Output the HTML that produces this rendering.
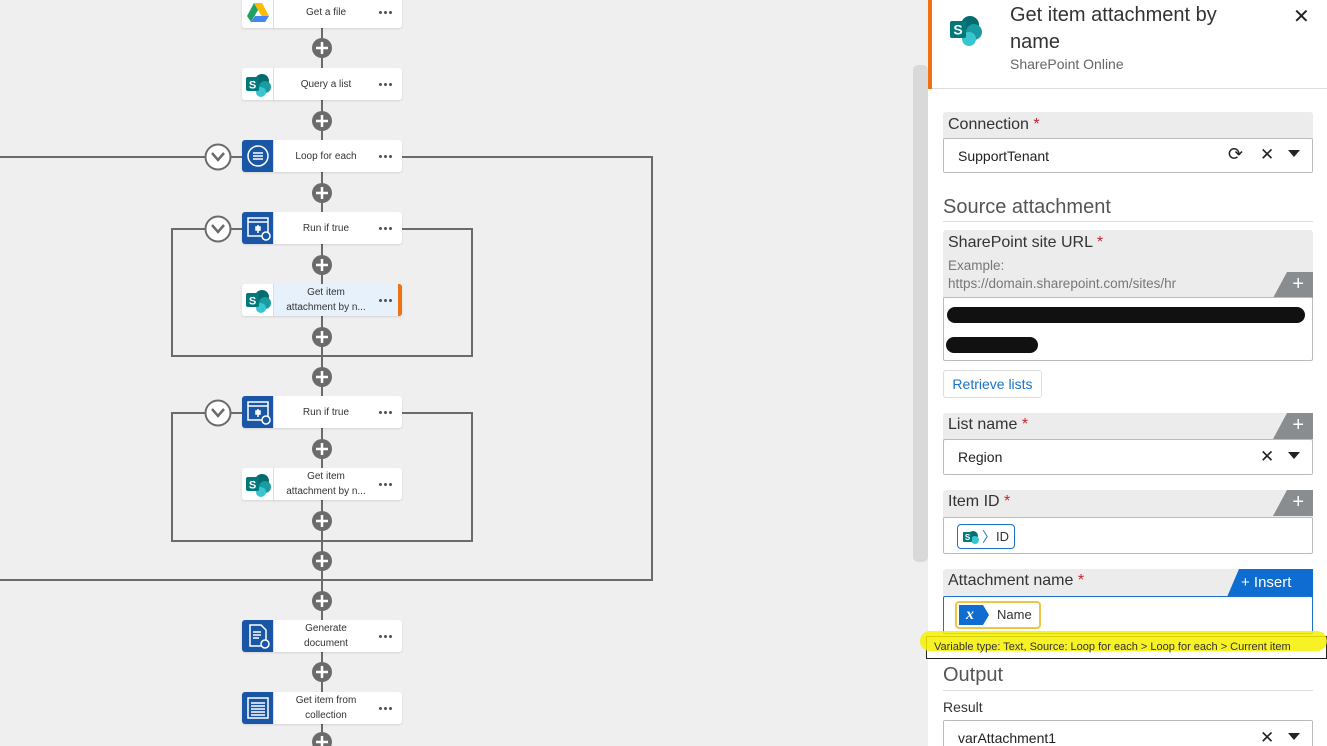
<!DOCTYPE html>
<html><head><meta charset="utf-8"><style>
*{margin:0;padding:0;box-sizing:border-box}
html,body{width:1327px;height:746px;overflow:hidden}
body{background:#efefef;font-family:"Liberation Sans","DejaVu Sans",sans-serif;position:relative}
.a{position:absolute}
.card{position:absolute;left:242px;width:160px;height:32px;background:#fff;border-radius:3px;box-shadow:0 1px 2px rgba(0,0,0,.12)}
.card .ic{position:absolute;left:0;top:0;width:32px;height:32px;border-radius:3px 0 0 3px;border-right:1px solid #ddd}
.card .t{position:absolute;left:33px;width:102px;top:0;height:32px;display:flex;align-items:center;justify-content:center;text-align:center;font-size:10px;line-height:15px;color:#333}
.card .d{position:absolute;right:10px;top:15px;width:14px;height:3px;background:radial-gradient(circle,#555 1.4px,transparent 1.6px) 0 0/5px 3px repeat-x}
.blue{background:#1a56a6}
.sp{background:#fff}
.lbl{font-size:16px;color:#333}
.req{color:#c4262e}
.fld{position:absolute;left:943px;width:370px;border:1px solid #bbb;border-radius:2px;background:#fff;overflow:hidden}
.hdr{position:absolute;left:943px;width:370px;background:#ececec;border-radius:3px 3px 0 0}
.plus{position:absolute;right:0;top:0;width:40px;height:26px;background:#8a8d90;clip-path:polygon(14px 0,100% 0,100% 100%,0 100%);color:#fff;font-size:20px;text-align:right;padding-right:9px;line-height:25px}
</style></head><body>

<svg class="a" style="left:0;top:0" width="910" height="746">
<g stroke="#6b6b6b" stroke-width="2" fill="none">
<line x1="322" y1="0" x2="322" y2="746"/>
<polyline points="0,157 242,157"/><polyline points="402,157 652,157 652,580 0,580"/>
<polyline points="242,229 172,229 172,356 472,356 472,229 402,229"/>
<polyline points="242,413 172,413 172,541 472,541 472,413 402,413"/>
</g>
<g>
<circle cx="218" cy="157" r="12.5" fill="#fff" stroke="#6b6b6b" stroke-width="2"/>
<circle cx="218" cy="229" r="12.5" fill="#fff" stroke="#6b6b6b" stroke-width="2"/>
<circle cx="218" cy="413" r="12.5" fill="#fff" stroke="#6b6b6b" stroke-width="2"/>
<g stroke="#6b6b6b" stroke-width="2.5" fill="none">
<polyline points="212,153 218,160 224,153"/><polyline points="212,225 218,232 224,225"/><polyline points="212,409 218,416 224,409"/>
</g>
</g>
<g fill="#6b6b6b">
<circle cx="322" cy="48" r="10"/><circle cx="322" cy="121" r="10"/><circle cx="322" cy="193" r="10"/><circle cx="322" cy="265" r="10"/><circle cx="322" cy="337" r="10"/><circle cx="322" cy="377" r="10"/><circle cx="322" cy="449" r="10"/><circle cx="322" cy="521" r="10"/><circle cx="322" cy="561" r="10"/><circle cx="322" cy="601" r="10"/><circle cx="322" cy="672" r="10"/><circle cx="322" cy="742" r="10"/>
</g>
<g stroke="#fff" stroke-width="2.5">
<path d="M316 48h12M322 42v12M316 121h12M322 115v12M316 193h12M322 187v12M316 265h12M322 259v12M316 337h12M322 331v12M316 377h12M322 371v12M316 449h12M322 443v12M316 521h12M322 515v12M316 561h12M322 555v12M316 601h12M322 595v12M316 672h12M322 666v12M316 742h12M322 736v12"/>
</g>
</svg>

<div class="card" style="top:-4px"><div class="ic sp"><svg width="32" height="32"><polygon points="12,7 20,7 27,20 23,26" fill="#fbbc04"/><polygon points="12,7 5,20 9,26 16,14" fill="#1ea362"/><polygon points="9,26 23,26 27,20 13,20" fill="#4285f4"/></svg></div><div class="t">Get a file</div><div class="d"></div></div>
<div class="card" style="top:68px"><div class="ic sp"><svg width="32" height="32"><circle cx="20" cy="13" r="7" fill="#036c70"/><circle cx="23" cy="19" r="6" fill="#1a9ba1"/><circle cx="19" cy="24" r="5" fill="#37c6d0"/><rect x="4" y="9" width="13" height="14" rx="2" fill="#03787c"/><text x="10.5" y="20.5" fill="#fff" font-size="11" font-weight="bold" text-anchor="middle" font-family="Liberation Sans">S</text></svg></div><div class="t">Query a list</div><div class="d"></div></div>
<div class="card" style="top:140px"><div class="ic blue"><svg width="32" height="32" fill="none" stroke="#fff" stroke-width="1.5"><circle cx="16" cy="16" r="10"/><path d="M11 13h10M11 16h10M11 19h10"/></svg></div><div class="t">Loop for each</div><div class="d"></div></div>
<div class="card" style="top:212px"><div class="ic blue"><svg width="32" height="32" fill="none" stroke="#fff" stroke-width="1.5"><rect x="6" y="6" width="20" height="18"/><path d="M6 10h20M16 13v8"/><rect x="14" y="15" width="4" height="3" fill="#fff"/><circle cx="24" cy="24" r="4" fill="#1a56a6"/></svg></div><div class="t">Run if true</div><div class="d"></div></div>
<div class="card" style="top:284px;background:#e6f1fb;border-right:4px solid #f07014"><div class="ic sp"><svg width="32" height="32"><circle cx="20" cy="13" r="7" fill="#036c70"/><circle cx="23" cy="19" r="6" fill="#1a9ba1"/><circle cx="19" cy="24" r="5" fill="#37c6d0"/><rect x="4" y="9" width="13" height="14" rx="2" fill="#03787c"/><text x="10.5" y="20.5" fill="#fff" font-size="11" font-weight="bold" text-anchor="middle" font-family="Liberation Sans">S</text></svg></div><div class="t">Get item<br>attachment by n...</div><div class="d" style="right:6px"></div></div>
<div class="card" style="top:396px"><div class="ic blue"><svg width="32" height="32" fill="none" stroke="#fff" stroke-width="1.5"><rect x="6" y="6" width="20" height="18"/><path d="M6 10h20M16 13v8"/><rect x="14" y="15" width="4" height="3" fill="#fff"/><circle cx="24" cy="24" r="4" fill="#1a56a6"/></svg></div><div class="t">Run if true</div><div class="d"></div></div>
<div class="card" style="top:468px"><div class="ic sp"><svg width="32" height="32"><circle cx="20" cy="13" r="7" fill="#036c70"/><circle cx="23" cy="19" r="6" fill="#1a9ba1"/><circle cx="19" cy="24" r="5" fill="#37c6d0"/><rect x="4" y="9" width="13" height="14" rx="2" fill="#03787c"/><text x="10.5" y="20.5" fill="#fff" font-size="11" font-weight="bold" text-anchor="middle" font-family="Liberation Sans">S</text></svg></div><div class="t">Get item<br>attachment by n...</div><div class="d"></div></div>
<div class="card" style="top:620px"><div class="ic blue"><svg width="32" height="32" fill="none" stroke="#fff" stroke-width="1.5"><path d="M8 5h11l5 5v16H8z"/><path d="M11 12h8M11 15h8M11 18h6"/><circle cx="23" cy="24" r="4" fill="#1a56a6"/></svg></div><div class="t">Generate<br>document</div><div class="d"></div></div>
<div class="card" style="top:692px"><div class="ic blue"><svg width="32" height="32" fill="none" stroke="#fff" stroke-width="1.5"><rect x="6" y="6" width="20" height="20"/><path d="M9 11h14M9 14h14M9 17h14M9 20h14M9 23h14"/></svg></div><div class="t">Get item from<br>collection</div><div class="d"></div></div>

<div class="a" style="left:913px;top:65px;width:15px;height:497px;background:#d9d9d9;border-radius:5px"></div>

<div class="a" style="left:928px;top:0;width:399px;height:746px;background:#fff"></div>
<div class="a" style="left:928px;top:0;width:4px;height:89px;background:#f07014"></div>
<div class="a" style="left:932px;top:88px;width:395px;height:1px;background:#ddd"></div>
<svg class="a" style="left:948px;top:10px" width="40" height="40"><circle cx="22" cy="15" r="9" fill="#036c70"/><circle cx="26" cy="22" r="8" fill="#1a9ba1"/><circle cx="21" cy="29" r="7" fill="#37c6d0"/><rect x="2" y="11" width="16" height="17" rx="2" fill="#03787c"/><text x="10" y="24.5" fill="#fff" font-size="14" font-weight="bold" text-anchor="middle" font-family="Liberation Sans">S</text></svg>
<div class="a" style="left:1010px;top:2px;font-size:20px;line-height:27px;color:#333;width:250px">Get item attachment by name</div>
<div class="a" style="left:1010px;top:56px;font-size:14px;color:#666">SharePoint Online</div>
<div class="a" style="left:1293px;top:4px;font-size:20px;color:#222">✕</div>

<div class="hdr" style="top:112px;height:28px"><span class="lbl a" style="left:5px;top:4px">Connection <span class="req">*</span></span></div>
<div class="fld" style="top:138px;height:35px"><span class="a" style="left:14px;top:9px;font-size:14px;color:#222">SupportTenant</span><span class="a" style="left:284px;top:5px;font-size:18px;color:#222">⟳</span><span class="a" style="left:316px;top:6px;font-size:17px;color:#222">✕</span><span class="a" style="left:344px;top:11px;border:6px solid transparent;border-top:7px solid #222"></span></div>

<div class="a" style="left:943px;top:196px;font-size:20px;color:#555">Source attachment</div>
<div class="a" style="left:943px;top:221px;width:370px;height:1px;background:#ddd"></div>

<div class="hdr" style="top:230px;height:68px"><span class="lbl a" style="left:5px;top:4px">SharePoint site URL <span class="req">*</span></span><span class="a" style="left:5px;top:27px;font-size:13.5px;color:#777;line-height:18px">Example:<br>https://domain.sharepoint.com/sites/hr</span><div class="plus" style="top:42px"> +</div></div>
<div class="fld" style="top:297px;height:64px"><div class="a" style="left:3px;top:9px;width:358px;height:16px;background:#111;border-radius:8px"></div><div class="a" style="left:2px;top:39px;width:92px;height:16px;background:#111;border-radius:8px"></div></div>

<div class="a" style="left:943px;top:370px;width:99px;height:28px;border:1px solid #ddd;border-radius:3px;color:#1a73c9;font-size:14px;line-height:26px;text-align:center">Retrieve lists</div>

<div class="hdr" style="top:413px;height:28px"><span class="lbl a" style="left:5px;top:3px">List name <span class="req">*</span></span><div class="plus">+</div></div>
<div class="fld" style="top:439px;height:36px"><span class="a" style="left:14px;top:9px;font-size:14px;color:#222">Region</span><span class="a" style="left:316px;top:7px;font-size:17px;color:#222">✕</span><span class="a" style="left:344px;top:12px;border:6px solid transparent;border-top:7px solid #222"></span></div>

<div class="hdr" style="top:490px;height:28px"><span class="lbl a" style="left:5px;top:3px">Item ID <span class="req">*</span></span><div class="plus">+</div></div>
<div class="fld" style="top:517px;height:37px"><div class="a" style="left:13px;top:6px;width:58px;height:25px;border:1px solid #1a73c9;border-radius:4px"><svg class="a" style="left:3px;top:3px" width="20" height="18"><circle cx="12" cy="8" r="5" fill="#036c70"/><circle cx="14" cy="12" r="4" fill="#37c6d0"/><rect x="2" y="4" width="9" height="10" rx="1" fill="#03787c"/><text x="6.5" y="12" fill="#fff" font-size="8" font-weight="bold" text-anchor="middle">S</text></svg><span class="a" style="left:24px;top:2px;color:#1a73c9;font-size:14px">〉</span><span class="a" style="left:38px;top:4px;font-size:13px;color:#333">ID</span></div></div>

<div class="hdr" style="top:569px;height:28px"><span class="lbl a" style="left:5px;top:3px">Attachment name <span class="req">*</span></span><div class="a" style="right:0;top:0;width:86px;height:28px;background:#0f6cd0;clip-path:polygon(12px 0,100% 0,100% 100%,0 100%);color:#fff;font-size:15px;line-height:27px;padding-left:14px">+ Insert</div></div>
<div class="fld" style="top:596px;height:38px;border-color:#1a73c9"><div class="a" style="left:11px;top:4px;width:86px;height:28px;border:2px solid #f2c443;border-radius:4px;background:#fff"><div class="a" style="left:2px;top:2px;width:30px;height:20px;background:#0f6cd0;clip-path:polygon(0 0,24px 0,100% 50%,24px 100%,0 100%);color:#fff;font-style:italic;font-weight:bold;font-family:'Liberation Serif',serif;font-size:16px;padding-left:7px;line-height:19px">x</div><span class="a" style="left:40px;top:4px;font-size:13px;color:#333">Name</span></div></div>

<div class="a" style="left:926px;top:636px;width:401px;height:23px;border:1px solid #222;background:#fff"></div>
<div class="a" style="left:920px;top:631px;width:407px;height:20px;background:#f5f000;border-radius:10px;opacity:.85"></div>
<div class="a" style="left:926px;top:636px;width:401px;height:23px;font-size:11px;color:#333;line-height:22px;padding-left:8px;white-space:nowrap">Variable type: Text, Source: Loop for each &gt; Loop for each &gt; Current item</div>

<div class="a" style="left:943px;top:664px;font-size:20px;color:#555">Output</div>
<div class="a" style="left:943px;top:690px;width:370px;height:1px;background:#ddd"></div>
<div class="a" style="left:943px;top:699px;font-size:14px;color:#333">Result</div>
<div class="fld" style="top:720px;height:40px"><span class="a" style="left:14px;top:9px;font-size:14px;color:#222">varAttachment1</span><span class="a" style="left:316px;top:7px;font-size:17px;color:#222">✕</span><span class="a" style="left:344px;top:12px;border:6px solid transparent;border-top:7px solid #222"></span></div>
</body></html>
